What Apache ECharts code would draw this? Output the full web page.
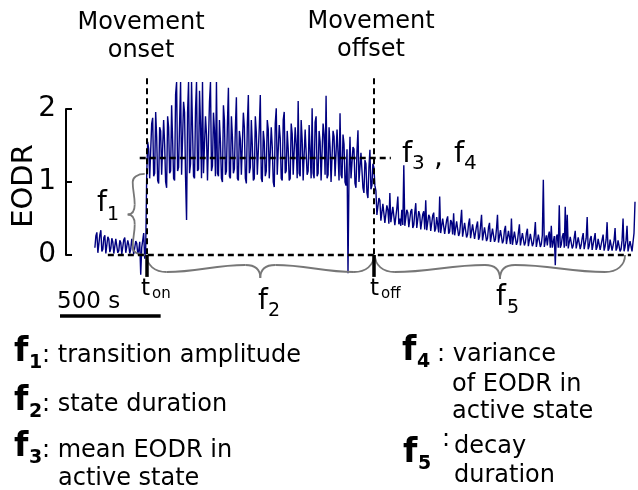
<!DOCTYPE html>
<html><head><meta charset="utf-8">
<script src="https://cdn.jsdelivr.net/npm/echarts@6/dist/echarts.min.js"></script>
<style>html,body{margin:0;padding:0;background:#fff}#c{width:638px;height:490px}</style>
</head><body><div id="c"></div>
<script>
// ---- data (EODR trace, sampled every 5 s starting at 175 s) ----
const SAMPLE_START = 175;   // s
const SAMPLE_STEP = 5;      // s
const baselineValues = [0.10,0.26,0.31,0.03,0.04,0.28,0.34,0.05,0.08,0.24,0.27,0.02,0.02,0.25,0.22,0.04,0.09,0.23,0.18,0.02,
  0.03,0.22,0.21,0.03,0.06,0.20,0.17,0.01,0.01,0.21,0.24,0.03,0.05,0.20,0.14,0.02,0.08,0.22,0.20,0.01,
  0.03,0.19,0.16,0.02,0.06,0.18,-0.27,0.10,0.12,0.30,-0.05,0.08];
const activeValues = [1.10,1.55,1.45,1.05,1.05,1.80,1.88,1.08,1.12,1.96,1.62,1.02,0.98,1.75,1.70,1.10,1.08,1.85,1.52,1.00,
  0.92,1.90,1.75,1.12,1.15,2.05,1.58,1.05,1.02,2.20,2.37,1.15,1.20,1.80,2.37,1.10,1.10,2.10,1.95,1.05,
  0.48,1.95,2.37,1.12,1.25,2.37,2.37,1.08,1.05,2.00,2.37,1.15,1.18,2.25,1.80,1.05,2.37,1.12,1.12,1.90,
  1.65,1.02,1.02,2.10,2.37,1.15,1.22,1.95,1.70,1.08,2.37,1.12,1.08,1.85,1.55,1.05,1.00,2.05,1.85,1.10,
  1.15,1.80,2.29,1.08,1.05,1.90,1.62,1.12,1.18,1.75,2.16,1.05,1.02,1.70,1.58,1.10,1.10,1.95,1.75,1.05,
  0.98,1.80,2.19,1.12,1.20,1.85,1.50,1.02,1.05,1.90,1.68,1.10,1.12,1.75,2.19,1.05,1.00,1.70,1.55,1.08,
  1.15,1.85,1.72,1.05,1.03,1.75,1.48,1.00,0.93,1.80,2.01,1.10,1.10,1.78,1.60,1.05,1.02,1.85,1.96,1.12,
  1.15,1.70,1.45,1.02,1.05,1.80,1.66,1.10,1.12,1.75,1.52,1.05,2.11,1.12,1.08,1.85,1.58,1.02,1.00,1.72,
  1.70,1.10,1.15,1.78,1.42,1.05,2.01,1.12,1.05,1.82,1.90,1.08,1.12,1.70,1.55,1.02,1.02,1.80,1.65,1.10,
  2.18,1.05,1.10,1.75,1.48,1.00,0.98,1.70,1.62,1.08,1.08,1.72,1.40,1.02,1.94,1.10,1.05,1.65,1.52,1.00,
  0.95,1.45,-0.25,1.10,1.62,1.05,1.05,1.48,1.45,0.98,0.92,1.42,1.71,1.00,1.00,1.40,1.38,0.92,0.85,1.30,
  1.25,0.85,0.78,1.20,1.44,0.90,0.95,1.25,1.20];
const decayValues = [0.95,0.88,0.55,0.55,0.78,0.75,0.47,0.48,0.70,0.70,0.44,0.45,0.68,0.62,0.43,0.85,0.45,0.46,0.66,0.66,
  0.41,0.42,0.64,0.80,0.42,0.50,0.40,0.62,0.41,1.23,0.40,0.40,0.62,0.58,0.38,0.38,0.60,0.63,0.37,0.41,
  0.58,0.71,0.37,0.39,0.60,0.55,0.35,0.36,0.56,0.60,0.35,0.75,0.34,0.35,0.55,0.52,0.33,0.33,0.54,0.58,
  0.32,0.36,0.52,0.50,0.31,0.80,0.30,0.30,0.50,0.48,0.29,0.29,0.48,0.53,0.29,0.32,0.48,0.45,0.28,0.57,
  0.27,0.27,0.46,0.44,0.26,0.30,0.45,0.62,0.25,0.26,0.44,0.42,0.24,0.28,0.43,0.50,0.23,0.24,0.42,0.40,
  0.22,0.22,0.40,0.46,0.21,0.25,0.40,0.55,0.20,0.21,0.38,0.38,0.19,0.23,0.38,0.44,0.18,0.19,0.36,0.36,
  0.18,0.22,0.36,0.55,0.17,0.17,0.34,0.35,0.16,0.20,0.34,0.40,0.15,0.16,0.33,0.33,0.15,0.50,0.14,0.15,
  0.32,0.32,0.14,0.18,0.31,0.42,0.13,0.14,0.30,0.30,0.13,0.17,0.30,0.36,0.12,0.13,0.29,0.28,0.12,0.16,
  0.28,0.45,0.11,0.12,0.28,0.30,0.11,0.15,0.27,1.03,0.11,0.20,0.27,0.13,0.26,0.32,0.10,0.40,0.10,0.12,
  0.26,-0.14,0.25,0.28,0.10,0.68,0.10,0.14,0.25,0.30,0.10,0.66,0.12,0.55,0.09,0.11,0.25,0.27,0.09,0.13,
  0.24,0.33,0.09,0.10,0.24,0.25,0.08,0.14,0.23,0.30,0.08,0.10,0.23,0.52,0.08,0.12,0.22,0.26,0.07,0.09,
  0.22,0.30,0.07,0.11,0.22,0.24,0.07,0.08,0.21,0.28,0.06,0.12,0.21,0.45,0.06,0.09,0.21,0.23,0.06,0.07,
  0.20,0.37,0.06,0.10,0.20,0.22,0.05,0.08,0.20,0.50,0.05,0.11,0.20,0.40,0.05,0.06,0.19,0.20,0.05,0.05,
  0.30,0.73];
const yTickValues = [0, 1, 2];
// ---- annotation anchors (data units) ----
const T_ON = 435, T_OFF = 1575, MEAN_ACTIVE = 1.33;
const SCALE_BAR = 500; // s

const allValues = baselineValues.concat(activeValues, decayValues);
const trace = allValues.map((v, i) => [SAMPLE_START + i * SAMPLE_STEP, v]);

const FONT = 'DejaVu Sans';
const dash = [6, 4];
const ls = (type, width) => ({type: type, width: width, color: '#000', opacity: 1});
const annotLines = [
  {coords: [[T_ON, 2.42], [T_ON, 0]], lineStyle: ls(dash, 2)},
  {coords: [[T_OFF, 2.42], [T_OFF, 0]], lineStyle: ls(dash, 2)},
  {coords: [[240, 0], [2865, 0]], lineStyle: ls(dash, 2.4)},
  {coords: [[400, MEAN_ACTIVE], [1660, MEAN_ACTIVE]], lineStyle: ls(dash, 2.4)},
  {coords: [[T_ON, 0], [T_ON, -0.3]], lineStyle: ls('solid', 3.5)},
  {coords: [[T_OFF, 0], [T_OFF, -0.3]], lineStyle: ls('solid', 3.5)},
  {coords: [[0, -0.83], [SCALE_BAR + 5, -0.83]], lineStyle: ls('solid', 3.5)}
];
// braces: from -> to (cusp on the left-hand side when walking from->to on screen)
const braces = [
  {from: [425, 1.11], to: [425, 0], m: 8, b: 12, s: 2, k: 10, c: 17},
  {from: [T_ON, 0], to: [T_OFF, 0], m: 20, b: 17, s: 7, k: 15, c: 23},
  {from: [T_OFF + 5, 0], to: [2835, 0], m: 20, b: 17, s: 7, k: 15, c: 24}
];

function braceRender(params, api) {
  const br = braces[params.dataIndex];
  const p1 = api.coord(br.from), p2 = api.coord(br.to);
  const dx = p2[0] - p1[0], dy = p2[1] - p1[1];
  const L = Math.hypot(dx, dy);
  const d = [dx / L, dy / L], n = [-d[1], d[0]];
  const h = L / 2, m = br.m, b = br.b, s = br.s, k = br.k, c = br.c;
  const segs = [
    [[0, 0], [0, b * 0.6], [m * 0.4, b], [m, b]],
    [[m, b], [m + (h - k - m) * 0.4, b], [m + (h - k - m) * 0.6, b - s], [h - k, b - s]],
    [[h - k, b - s], [h - k * 0.4, b - s], [h, b - s + (c - b + s) * 0.3], [h, c]]
  ];
  const all = segs.concat(segs.map(sg => sg.map(p => [L - p[0], p[1]]).reverse()));
  const P = p => [p1[0] + p[0] * d[0] + p[1] * n[0], p1[1] + p[0] * d[1] + p[1] * n[1]];
  return {
    type: 'group',
    children: all.map(sg => {
      const a = P(sg[0]), c1 = P(sg[1]), c2 = P(sg[2]), e = P(sg[3]);
      return {type: 'bezierCurve', shape: {x1: a[0], y1: a[1], cpx1: c1[0], cpy1: c1[1], cpx2: c2[0], cpy2: c2[1], x2: e[0], y2: e[1]},
        style: {stroke: '#777777', lineWidth: 1.8, fill: null}};
    })
  };
}

function txt(text, x, y, size, opts) {
  opts = opts || {};
  return {type: 'text', x: x, y: y, z: 10, rotation: opts.rotation || 0,
    style: {text: text, fontSize: size, fontFamily: FONT, fontWeight: opts.bold ? 'bold' : 'normal',
      fill: '#000', align: opts.align || 'left', verticalAlign: 'middle'}};
}

const texts = [
  txt('EODR', 24, 186, 29, {align: 'center', rotation: Math.PI / 2}),
  txt('Movement', 141, 23, 24, {align: 'center'}), txt('onset', 141, 51, 24, {align: 'center'}),
  txt('Movement', 371, 22, 24, {align: 'center'}), txt('offset', 371, 50, 24, {align: 'center'}),
  txt('f', 97, 204, 28), txt('1', 107, 215, 19),
  txt('f', 258, 302, 28), txt('2', 268, 311, 19),
  txt('f', 496, 298, 28), txt('5', 507, 308, 19),
  txt('f', 402, 154, 29), txt('3', 412, 164, 20), txt(',', 434, 159, 28),
  txt('f', 454, 154, 29), txt('4', 464, 164, 20),
  txt('t', 141, 289, 23), txt('on', 152, 294, 15),
  txt('t', 370, 289, 23), txt('off', 381, 294, 15),
  txt('500 s', 57, 302, 23),
  txt('f', 14, 352, 33, {bold: true}), txt('1', 29, 363, 19, {bold: true}), txt(': transition amplitude', 42, 356, 24),
  txt('f', 14, 401, 33, {bold: true}), txt('2', 29, 412, 19, {bold: true}), txt(': state duration', 42, 405, 24),
  txt('f', 14, 447, 33, {bold: true}), txt('3', 29, 458, 19, {bold: true}), txt(': mean EODR in', 42, 451, 24),
  txt('active state', 58, 479, 24),
  txt('f', 402, 351, 33, {bold: true}), txt('4', 417, 362, 19, {bold: true}), txt(': variance', 437, 355, 24),
  txt('of EODR in', 452, 385, 24), txt('active state', 452, 412, 24),
  txt('f', 403, 453, 33, {bold: true}), txt('5', 418, 464, 19, {bold: true}), txt(':', 442, 440, 24),
  txt('decay', 454, 447, 24), txt('duration', 454, 476, 24)
];

const chart = echarts.init(document.getElementById('c'), null, {renderer: 'canvas'});
chart.setOption({
  animation: false,
  backgroundColor: '#fff',
  grid: [
    {left: 60, top: 76.15, width: 580, height: 211.7},
    {left: 66, top: 109, width: 10, height: 146}
  ],
  xAxis: [
    {gridIndex: 0, type: 'value', min: 0, max: 2900, show: false},
    {gridIndex: 1, type: 'value', min: 0, max: 1, show: false}
  ],
  yAxis: [
    {gridIndex: 0, type: 'value', min: -0.45, max: 2.45, show: false},
    {gridIndex: 1, type: 'value', min: 0, max: 2, interval: 1,
      axisLine: {show: true, lineStyle: {color: '#000', width: 2}},
      axisTick: {show: true, inside: true, length: 6, lineStyle: {color: '#000', width: 2}, customValues: yTickValues},
      axisLabel: {fontSize: 28, color: '#000', fontFamily: FONT, margin: 10, customValues: yTickValues},
      splitLine: {show: false}}
  ],
  series: [
    {type: 'line', xAxisIndex: 0, yAxisIndex: 0, data: trace, showSymbol: false, symbol: 'none',
      lineStyle: {color: '#000080', width: 1.4}, z: 2},
    {type: 'lines', coordinateSystem: 'cartesian2d', xAxisIndex: 0, yAxisIndex: 0, clip: false, z: 5,
      lineStyle: {color: '#000', opacity: 1}, data: annotLines},
    {type: 'custom', xAxisIndex: 0, yAxisIndex: 0, clip: false, z: 4, renderItem: braceRender,
      data: braces.map((b, i) => [i])}
  ],
  graphic: texts
});
</script></body></html>
